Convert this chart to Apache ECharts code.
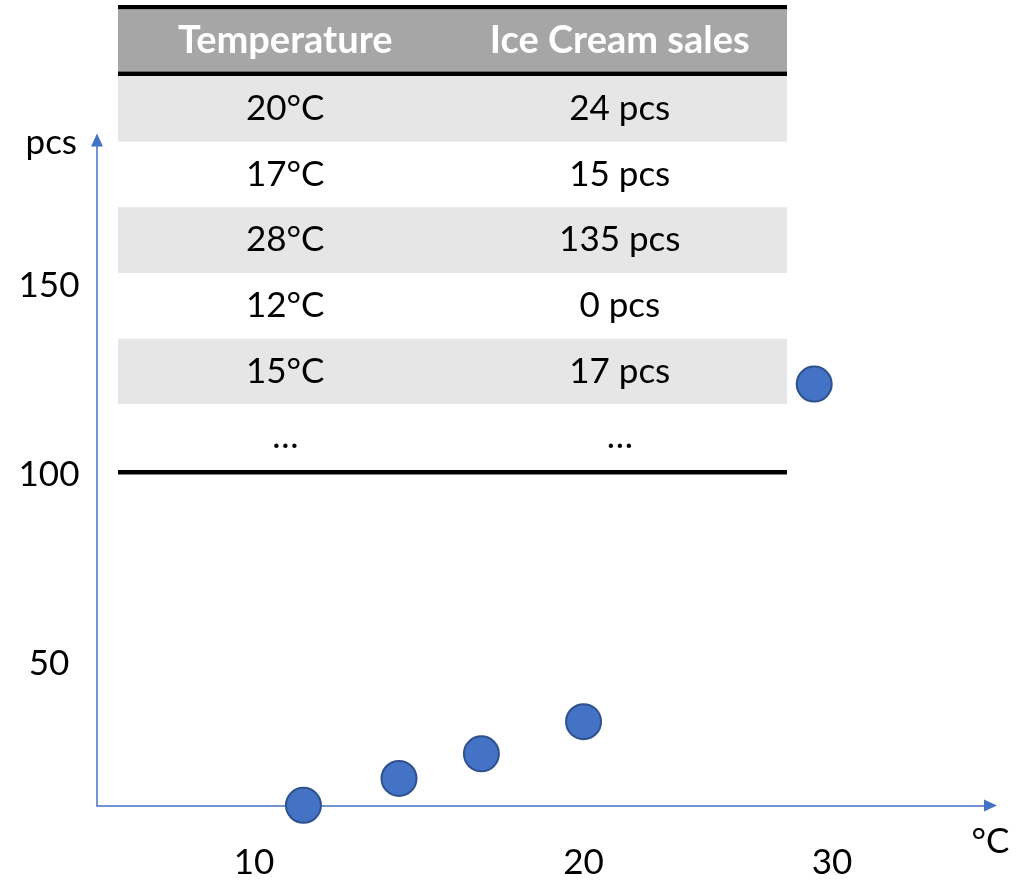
<!DOCTYPE html>
<html>
<head>
<meta charset="utf-8">
<script src="https://cdn.jsdelivr.net/npm/echarts@6/dist/echarts.min.js"></script>
<style>
  html, body { margin: 0; padding: 0; background: #ffffff; }
  #chart { width: 1024px; height: 880px; }
</style>
</head>
<body>
<div id="chart"></div>
<script>
// ---- data ----
const tableHeader = ['Temperature', 'Ice Cream sales'];
const tableTemps = ['20°C', '17°C', '28°C', '12°C', '15°C', '…'];
const tableSales = ['24 pcs', '15 pcs', '135 pcs', '0 pcs', '17 pcs', '…'];

const temperature = [11.5, 14.4, 16.9, 20.0, 27.0];
const sales = [12.6, 19.7, 26.2, 34.7, 123.9];

const xTickLabels = [10, 20];
const xExtraTickLabels = [30];
const yTickLabels = [50, 100, 150];

// ---- styling / layout ----
const FONT = 'Lato, "Open Sans", sans-serif';
const BLUE = '#4472c4';
const FS = 35;
const HFS = 38;

const chart = echarts.init(document.getElementById('chart'), null, { renderer: 'canvas' });

// table graphic built from the arrays
const T = { left: 118, width: 669, top: 5, line: 4.5, headH: 62, rowH: 65.67 };
const graphics = [];
const colX = [T.left + T.width / 4, T.left + T.width * 3 / 4];
graphics.push({ type: 'rect', shape: { x: T.left, y: T.top, width: T.width, height: T.line }, style: { fill: '#000' } });
const headTop = T.top + T.line;
graphics.push({ type: 'rect', shape: { x: T.left, y: headTop, width: T.width, height: T.headH }, style: { fill: '#a6a6a6' } });
graphics.push({ type: 'rect', shape: { x: T.left, y: headTop + T.headH, width: T.width, height: T.line }, style: { fill: '#000' } });
tableHeader.forEach((h, c) => {
  graphics.push({ type: 'text', x: colX[c], y: headTop + T.headH / 2 + 0.5,
    style: { text: h, fill: '#ffffff', font: 'bold ' + HFS + 'px ' + FONT, align: 'center', verticalAlign: 'middle' } });
});
const bodyTop = headTop + T.headH + T.line;
tableTemps.forEach((t, i) => {
  const y0 = bodyTop + i * T.rowH;
  graphics.push({ type: 'rect', shape: { x: T.left, y: y0, width: T.width, height: T.rowH },
    style: { fill: i % 2 === 0 ? '#e7e6e6' : '#ffffff' } });
  [t, tableSales[i]].forEach((txt, c) => {
    graphics.push({ type: 'text', x: colX[c], y: y0 + T.rowH / 2,
      style: { text: txt, fill: '#000000', font: FS + 'px ' + FONT, align: 'center', verticalAlign: 'middle' } });
  });
});
graphics.push({ type: 'rect', shape: { x: T.left, y: bodyTop + tableTemps.length * T.rowH, width: T.width, height: T.line }, style: { fill: '#000' } });

const labelStyle = { fontFamily: FONT, fontSize: FS, color: '#000000' };

const option = {
  backgroundColor: '#ffffff',
  animation: false,
  grid: { left: 97, right: 33.5, top: 140, bottom: 74.5, containLabel: false, outerBoundsMode: 'none' },
  xAxis: [
    {
      type: 'value', position: 'bottom',
      min: 5.235, max: 32.35, minInterval: 10, maxInterval: 10,
      axisLine: { show: true, onZero: false, symbol: ['none', 'triangle'], symbolSize: [12, 13],
        lineStyle: { color: BLUE, width: 1.5 } },
      axisTick: { show: false }, splitLine: { show: false },
      axisLabel: Object.assign({ margin: 57, verticalAlign: 'middle', showMinLabel: true, showMaxLabel: true,
        formatter: v => xTickLabels.includes(Math.round(v * 1000) / 1000) ? String(v) : '' }, labelStyle),
      name: '°C', nameLocation: 'end', nameGap: 0, nameMoveOverlap: false,
      nameTextStyle: Object.assign({ align: 'center', verticalAlign: 'top', lineHeight: 72 }, labelStyle)
    },
    {
      type: 'value', position: 'bottom',
      min: 0, max: 36.47, minInterval: 10, maxInterval: 10,
      axisLine: { show: false }, axisTick: { show: false }, splitLine: { show: false },
      axisLabel: Object.assign({ margin: 57, verticalAlign: 'middle',
        formatter: v => xExtraTickLabels.includes(Math.round(v * 1000) / 1000) ? String(v) : '' }, labelStyle)
    }
  ],
  yAxis: {
    type: 'value',
    min: 12.55, max: 188.38, minInterval: 50, maxInterval: 50,
    axisLine: { show: true, onZero: false, symbol: ['none', 'triangle'], symbolSize: [12, 13],
      lineStyle: { color: BLUE, width: 1.5 } },
    axisTick: { show: false }, splitLine: { show: false },
    axisLabel: Object.assign({ margin: 48, align: 'center',
      formatter: v => yTickLabels.includes(Math.round(v * 1000) / 1000) ? String(v) : '' }, labelStyle),
    name: 'pcs', nameLocation: 'end', nameGap: -3, nameMoveOverlap: false,
    nameTextStyle: Object.assign({ align: 'right', verticalAlign: 'middle', padding: [0, 20, 0, 0] }, labelStyle)
  },
  series: [{
    type: 'scatter',
    xAxisIndex: 0, yAxisIndex: 0,
    clip: false,
    symbol: 'circle', symbolSize: 35,
    itemStyle: { color: BLUE, borderColor: '#2f528f', borderWidth: 2, opacity: 1 },
    data: temperature.map((t, i) => [t, sales[i]]),
    z: 5
  }],
  graphic: graphics
};
chart.setOption(option);
</script>
</body>
</html>
